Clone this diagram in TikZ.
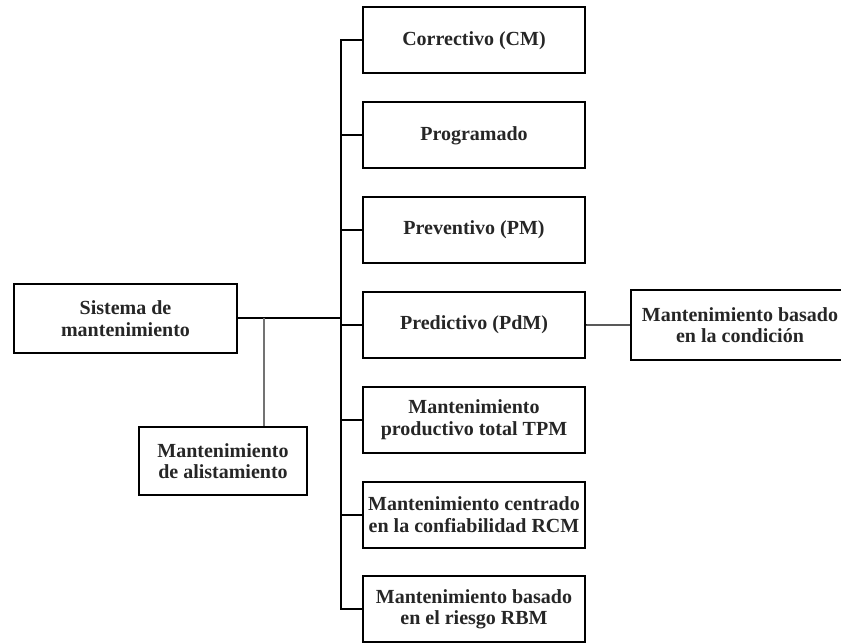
\documentclass[tikz,border=0pt]{standalone}
\usepackage{fontspec}
\setmainfont{Liberation Serif}
\begin{document}
\begin{tikzpicture}[x=1pt,y=-1pt,
  caja/.style={draw, line width=2pt, align=center, inner sep=0pt,
    text=black!85, font=\bfseries\fontsize{20}{21.5}\selectfont},
  tipo/.style={caja, minimum width=222pt, minimum height=66pt},
  linea/.style={line width=2pt},
  gris/.style={line width=1.5pt, draw=black!55}]
\useasboundingbox (0,0) rectangle (841,644);
% caja principal y rama de alistamiento
\node[caja, minimum width=223pt, minimum height=69pt] (sistema) at (125.5,318.5) {Sistema de\\mantenimiento};
\node[caja, minimum width=168pt, minimum height=68pt] (alist) at (223,461) {Mantenimiento\\de alistamiento};
% tipos de mantenimiento
\node[tipo] (cm) at (474,40.5) {Correctivo (CM)};
\node[tipo] (prog) at (474,135.3) {Programado};
\node[tipo] (pm) at (474,230.1) {Preventivo (PM)};
\node[tipo] (pdm) at (474,324.9) {Predictivo (PdM)};
\node[tipo] (tpm) at (474,419.7) {Mantenimiento\\productivo total TPM};
\node[tipo] (rcm) at (474,514.5) {Mantenimiento centrado\\en la confiabilidad RCM};
\node[tipo] (rbm) at (474,609.3) {Mantenimiento basado\\en el riesgo RBM};
\node[caja, minimum width=218pt, minimum height=70pt] (cond) at (740,325) {Mantenimiento basado\\en la condición};
% conexiones
\draw[linea] (cm.west) -- ++(-21,0) coordinate (ltop) -- (ltop |- rbm.west) -- (rbm.west);
\foreach \n in {prog,pm,pdm,tpm,rcm}
  \draw[linea] (\n.west) -- (ltop |- \n.west);
\draw[linea] (sistema.east) -- (ltop |- sistema.east);
\path (sistema.east) ++(26,0) coordinate (rama);
\draw[gris] (rama) -- (rama |- alist.north);
\draw[line width=1.3pt] (pdm.east) -- (cond.west);
\end{tikzpicture}
\end{document}
